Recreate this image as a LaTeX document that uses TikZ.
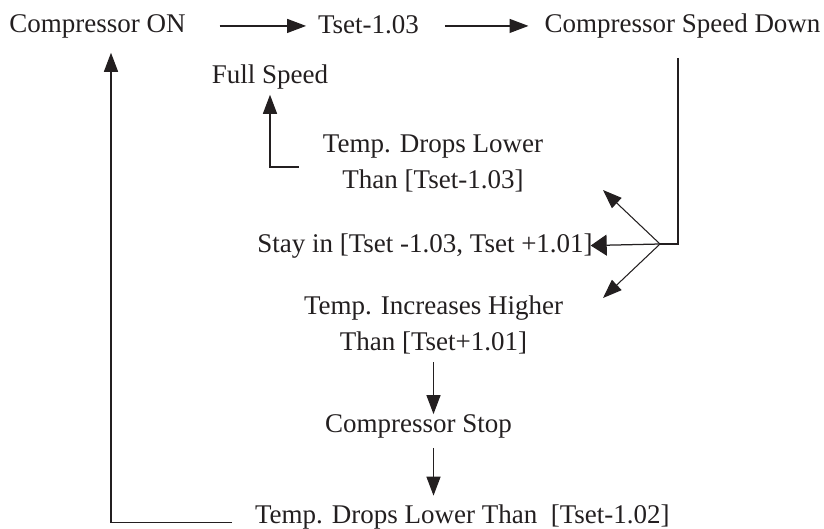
\documentclass[tikz,border=0pt]{standalone}
\usepackage{fontspec}
\setmainfont{Liberation Serif}
\usetikzlibrary{arrows.meta,calc}
\definecolor{ink}{RGB}{35,31,32}
\tikzset{
  lbl/.style={inner sep=0pt, outer sep=0pt, text=ink, font=\fontsize{27}{36}\selectfont},
  conn/.style={draw=ink, line width=1.25pt},
  arr/.style={conn, -{Triangle[length=19pt,width=14pt]}},
  widearr/.style={conn, -{Triangle[length=16pt,width=21pt]}},
  thinarr/.style={draw=ink, line width=1.05pt, -{Triangle[length=19pt,width=14pt]}}
}
\begin{document}
\begin{tikzpicture}[x=1pt,y=-1pt]
\useasboundingbox (0,0) rectangle (824,528);
% texts
\node[lbl, anchor=base] (on) at (97.5,32) {Compressor ON};
\node[lbl, anchor=base] (tset) at (368.5,33) {Tset-1.03};
\node[lbl, anchor=base] (csd) at (682.5,32) {Compressor Speed Down};
\node[lbl, anchor=base] (full) at (270,83) {Full Speed};
\node[lbl, align=center] (drop1) at (433,163.5) {Temp. Drops Lower\\Than [Tset-1.03]};
\node[lbl, anchor=base] (stay) at (425,252) {Stay in [Tset -1.03, Tset +1.01]};
\node[lbl, align=center] (incr) at (433.5,325.3) {Temp. Increases Higher\\Than [Tset+1.01]};
\node[lbl, anchor=base] (stop) at (418.5,432) {Compressor Stop};
\node[lbl, anchor=base west] (bot) at (255,523) {Temp. Drops Lower Than\ \ [Tset-1.02]};
\coordinate (fork) at (660,244);
% connectors
\draw[arr, shorten <=34pt, shorten >=12pt] (on.east) -- (on.east -| tset.west);
\draw[arr, shorten <=26pt, shorten >=16pt] (tset.east |- on.east) -- (csd.west |- on.east);
\draw[conn] ($(csd.south)+(-4.5,20)$) |- (fork);
\draw[widearr] (fork) -- ([xshift=-2pt]stay.east);
\draw[thinarr] (fork) -- ++(-57,-54);
\draw[thinarr] (fork) -- ++(-57,54);
\draw[arr, shorten >=6pt] ([xshift=-24pt,yshift=-3.5pt]drop1.west) -| (full.south);
\draw[arr, shorten <=8pt] (incr.south) -- (incr.south |- stop.north);
\draw[arr, shorten <=10pt, shorten >=8.6pt] (stop.south -| incr.south) -- (bot.north -| incr.south);
\draw[arr, shorten <=23pt, shorten >=15pt] ([yshift=-6pt]bot.west) -| ([xshift=13.5pt]on.south);
\end{tikzpicture}
\end{document}
